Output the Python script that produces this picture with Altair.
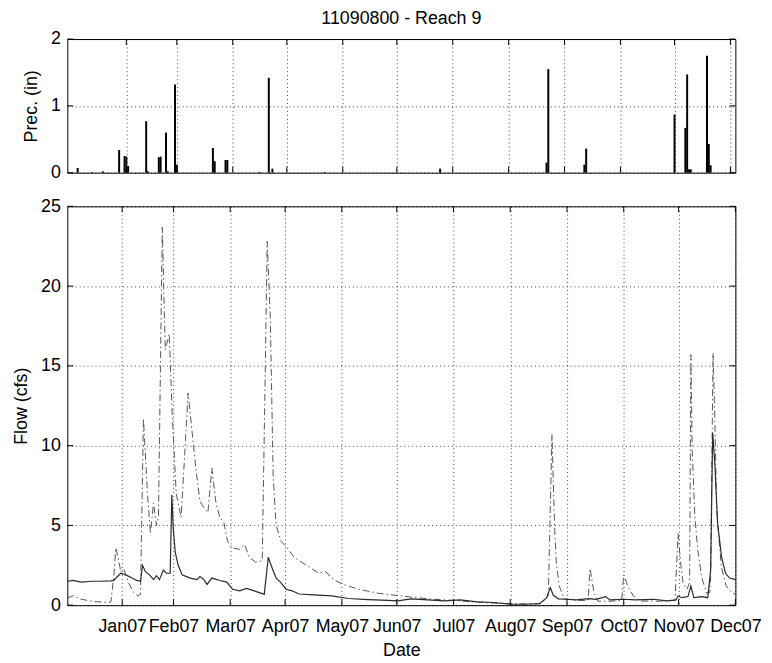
import altair as alt
import pandas as pd

# ---- x axis: day offset from 2006-12-01, tick positions and labels ----
tick_days = [30, 58, 89, 119, 150, 180, 211, 242, 273, 304, 334, 365]
tick_labels = ["Jan07", "Feb07", "Mar07", "Apr07", "May07", "Jun07",
               "Jul07", "Aug07", "Sep07", "Oct07", "Nov07", "Dec07"]

# ---- precipitation (in), daily ----
prec_day = [3, 11, 17, 26, 29, 30, 31, 41, 42, 48, 49, 52, 53, 57, 58,
            78, 79, 85, 86, 104, 109, 111, 140, 204, 263, 264, 284, 285,
            334, 340, 341, 342, 343, 352, 353, 354]
prec_in = [0.07, 0.01, 0.02, 0.34, 0.25, 0.24, 0.10, 0.77, 0.02, 0.23, 0.24, 0.60, 0.02, 1.32, 0.12,
           0.37, 0.17, 0.19, 0.19, 0.01, 1.42, 0.06, 0.01, 0.06, 0.15, 1.55, 0.12, 0.36,
           0.87, 0.67, 1.47, 0.05, 0.05, 1.75, 0.43, 0.11]

# ---- flow series 1 (solid) ----
obs_day = [0, 3.2, 7.6, 13, 18.4, 23.8, 25.4, 27, 29.2, 31.9, 34.6, 37.9, 40, 41.1, 42.7, 44.9,
           47.1, 48.7, 50.3, 52.5, 54.1, 56.2, 57.1, 57.9, 59, 60.6, 62.7, 67.1, 70.8, 72.5,
           74.6, 76.3, 79, 83.3, 87.1, 90.3, 94.1, 97.9, 102.2, 107.6, 109.8, 112, 114.1,
           116.8, 119.5, 122.8, 126.6, 134.7, 144.4, 153.6, 164.4, 175.2, 180.6, 187.7,
           196.9, 206.1, 214.7, 223.9, 233.1, 241.8, 250.9, 258, 261.8, 263.9, 265.5, 268.3,
           272.6, 278, 285, 288.8, 294.2, 296.4, 303.4, 310.4, 320.2, 327.7, 332.6, 333.7,
           335.9, 339.1, 340.7, 342.3, 346.7, 349.9, 351.5, 352.6, 353.7, 355.3, 357.5,
           359.6, 361.8, 365]
obs_cfs = [1.5, 1.55, 1.45, 1.5, 1.5, 1.52, 1.55, 1.75, 2.0, 1.9, 1.75, 1.55, 1.5, 2.5, 2.1, 1.9,
           1.6, 1.85, 1.6, 2.2, 2.0, 2.0, 6.9, 4.8, 3.3, 2.5, 1.9, 1.7, 1.6, 1.8,
           1.6, 1.3, 1.7, 1.55, 1.45, 1.0, 0.9, 1.05, 0.9, 0.68, 3.0, 2.3, 1.7,
           1.4, 1.0, 0.9, 0.7, 0.65, 0.58, 0.42, 0.35, 0.3, 0.27, 0.4,
           0.33, 0.27, 0.33, 0.21, 0.17, 0.07, 0.06, 0.1, 0.45, 1.1, 0.62, 0.4,
           0.37, 0.33, 0.41, 0.37, 0.54, 0.33, 0.37, 0.33, 0.37, 0.27, 0.33, 0.58,
           0.47, 0.54, 1.2, 0.47, 0.54, 0.47, 2.2, 10.8, 9.0, 5.1, 3.0,
           2.0, 1.7, 1.6]

# ---- flow series 2 (dash-dot) ----
sim_day = [0, 3.2, 7.6, 14.6, 22.2, 23.8, 25.4, 26.5, 28.1, 29.2, 30.8, 33.5, 36.2, 38.4, 40,
           41.6, 43.8, 45.4, 47.1, 48.7, 49.8, 51.9, 53.5, 55.7, 57.3, 59.5, 62.2, 64.9, 66,
           67.6, 70.3, 72.5, 75.2, 76.8, 79, 81.1, 83.3, 85.5, 87.6, 89.8, 94.1, 96.8, 99.5,
           102.8, 106.5, 108.2, 109.2, 110.9, 112.5, 114.1, 116.8, 120.1, 123.9, 129.3,
           137.4, 141.2, 145.5, 150.9, 159, 169.8, 180.6, 196.9, 213.1, 229.3, 245.5, 259,
           262.8, 264.8, 265.5, 266.3, 267.2, 268.8, 271.5, 278, 284.5, 285.6, 287.8, 289.9,
           297, 302.9, 304, 306.6, 309.3, 313.1, 323.9, 332, 333.7, 335.3, 336.4, 338.5,
           340, 340.7, 341.4, 342.9, 344.4, 346.5, 349.2, 351, 351.5, 352.8, 353.7, 354.8,
           357.3, 360, 363.4, 365]
sim_cfs = [0.45, 0.6, 0.37, 0.23, 0.17, 0.2, 1.8, 3.6, 2.8, 2.1, 2.3, 1.4, 0.8, 0.58, 0.68,
           11.7, 7.0, 4.5, 6.4, 5.0, 5.5, 23.7, 16.0, 17.0, 12.0, 7.0, 5.5, 11.0, 13.3,
           11.5, 8.5, 6.5, 6.0, 5.8, 8.6, 6.5, 5.5, 5.2, 4.0, 3.6, 3.5, 3.8, 3.0,
           2.7, 2.8, 15.0, 22.8, 18.0, 8.0, 5.0, 4.0, 3.6, 3.0, 2.6,
           2.0, 2.1, 1.6, 1.3, 1.0, 0.75, 0.6, 0.4, 0.28, 0.15, 0.08, 0.1,
           0.6, 10.7, 7.8, 4.7, 2.6, 1.2, 0.4, 0.3, 0.3, 2.3, 0.76, 0.25,
           0.25, 0.3, 1.9, 1.1, 0.57, 0.26, 0.25, 0.3, 4.5, 2.4, 1.4, 1.0,
           1.4, 15.7, 9.7, 5.5, 3.5, 1.8, 0.76, 0.8, 1.8, 15.8, 12.0, 6.0,
           2.4, 1.2, 0.75, 0.7]

prec_ticks = [0, 1, 2]
flow_ticks = [0, 5, 10, 15, 20, 25]

W = 675
H_TOP = 135
H_BOT = 403
FONT = "Liberation Sans"
FS = 18
TK = 6  # inward tick length

prec_df = pd.DataFrame({"day": prec_day, "prec": prec_in})
obs_df = pd.DataFrame({"day": obs_day, "flow": obs_cfs})
sim_df = pd.DataFrame({"day": sim_day, "flow": sim_cfs})
xt_df = pd.DataFrame({"day": tick_days})

label_expr = ("[" + ",".join("'%s'" % s for s in tick_labels) + "][indexof(["
              + ",".join(str(d) for d in tick_days) + "], datum.value)]")

xscale = alt.Scale(domain=[0, 365], nice=False, zero=False)

grid_kw = dict(grid=True, gridColor="#000000", gridDash=[1, 3], gridOpacity=0.75,
               gridWidth=1, domain=False, ticks=False, labelFont=FONT, titleFont=FONT,
               labelFontSize=FS, titleFontSize=FS, labelColor="black",
               titleColor="black", titleFontWeight="normal", labelOverlap=False,
               labelBound=False)


def x_axis(show):
    if show:
        return alt.Axis(values=tick_days, labelExpr=label_expr, title="Date",
                        labelPadding=13, titlePadding=6,
                        labelFlush=False, **grid_kw)
    return alt.Axis(values=tick_days, labels=False, title=None, labelPadding=0, **grid_kw)


def y_axis(vals, title):
    return alt.Axis(values=vals, title=title, labelPadding=7, titlePadding=10,
                    labelFlush=False, labelExpr="format(datum.value, 'd')", **grid_kw)


def panel(yvals, ydom, h, ytitle, show_x, marks):
    yscale = alt.Scale(domain=ydom, nice=False, zero=True)
    xa = x_axis(show_x)
    ya = y_axis(yvals, ytitle)
    yt_df = pd.DataFrame({"v": yvals})
    layers = []
    for m in marks:
        layers.append(m(xa, ya, yscale))
    base_x = alt.Chart(xt_df).mark_rule(color="black", strokeWidth=1)
    layers.append(base_x.encode(x=alt.X("day:Q", scale=xscale, axis=xa),
                                y=alt.value(h), y2=alt.value(h - TK)))
    layers.append(base_x.encode(x=alt.X("day:Q", scale=xscale, axis=xa),
                                y=alt.value(0), y2=alt.value(TK)))
    base_y = alt.Chart(yt_df).mark_rule(color="black", strokeWidth=1)
    layers.append(base_y.encode(y=alt.Y("v:Q", scale=yscale, axis=ya),
                                x=alt.value(0), x2=alt.value(TK)))
    layers.append(base_y.encode(y=alt.Y("v:Q", scale=yscale, axis=ya),
                                x=alt.value(W), x2=alt.value(W - TK)))
    return alt.layer(*layers).properties(width=W, height=h)


def prec_bars(xa, ya, ys):
    return alt.Chart(prec_df).mark_bar(color="black", size=2).encode(
        x=alt.X("day:Q", scale=xscale, axis=xa),
        y=alt.Y("prec:Q", scale=ys, axis=ya))


def obs_line(xa, ya, ys):
    return alt.Chart(obs_df).mark_line(color="#2a2a2a", strokeWidth=1.2).encode(
        x=alt.X("day:Q", scale=xscale, axis=xa),
        y=alt.Y("flow:Q", scale=ys, axis=ya))


def sim_line(xa, ya, ys):
    return alt.Chart(sim_df).mark_line(color="#555555", strokeWidth=1,
                                       strokeDash=[7, 3, 1.5, 3]).encode(
        x=alt.X("day:Q", scale=xscale, axis=xa),
        y=alt.Y("flow:Q", scale=ys, axis=ya))


top = panel(prec_ticks, [0, 2], H_TOP, "Prec. (in)", False, [prec_bars]).properties(
    title=alt.Title("11090800 - Reach 9", fontSize=FS, fontWeight="normal",
                    font=FONT, color="black", offset=2, anchor="middle", frame="group"))
bottom = panel(flow_ticks, [0, 25], H_BOT, "Flow (cfs)", True, [sim_line, obs_line])

chart = alt.vconcat(top, bottom, spacing=14).properties(
    padding={"left": 12, "top": 6, "right": 10, "bottom": 3},
    background="white"
).configure_view(stroke="black", strokeWidth=1).configure_axis(labelOverlap=False)

chart.save("out.html", embed_options={"renderer": "svg", "actions": False})
